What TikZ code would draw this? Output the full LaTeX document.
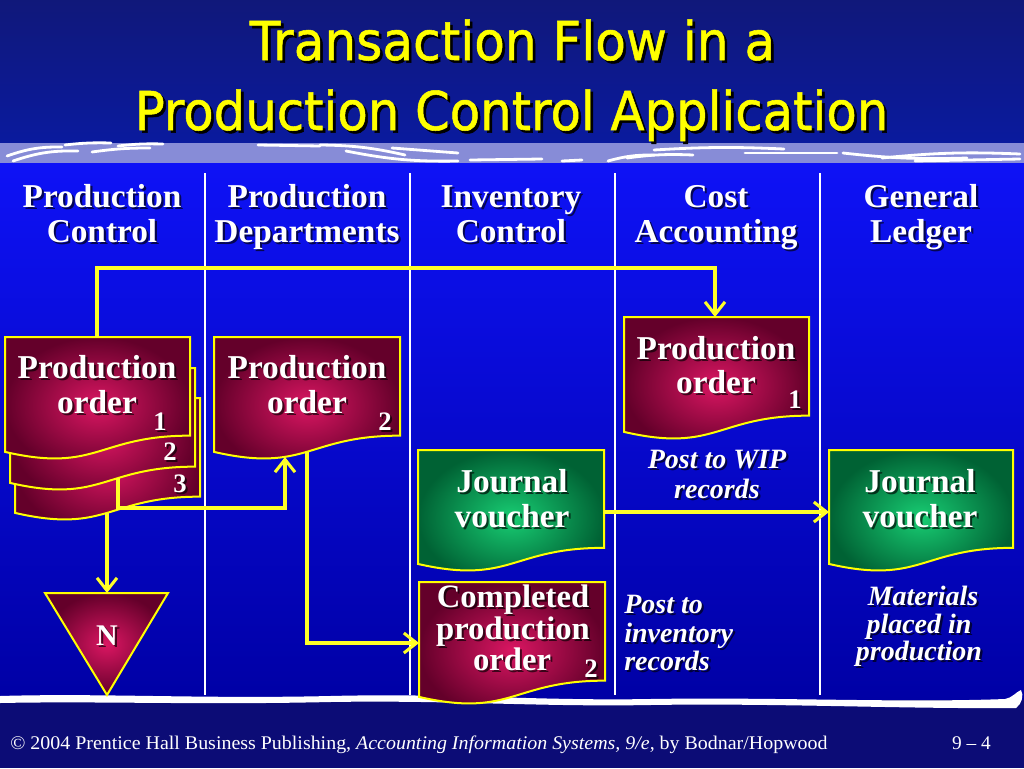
\documentclass[tikz,border=0pt]{standalone}
\usepackage{fontspec}
\usepackage{graphicx}
\setmainfont{Liberation Serif}
\newfontfamily\titlefont[FakeBold=1]{DejaVu Sans}
\usetikzlibrary{arrows.meta}
\definecolor{bgtop}{RGB}{16,24,122}
\definecolor{bgtitle}{RGB}{10,26,158}
\definecolor{band}{RGB}{135,140,215}
\definecolor{mainA}{RGB}{14,18,246}
\definecolor{mainB}{RGB}{0,0,165}
\definecolor{foot}{RGB}{12,12,118}
\definecolor{marA}{RGB}{218,22,98}
\definecolor{marB}{RGB}{100,0,42}
\definecolor{grnA}{RGB}{24,205,115}
\definecolor{grnB}{RGB}{0,98,52}
\definecolor{yel}{RGB}{255,255,0}
\definecolor{conny}{RGB}{255,255,40}
\newcommand\docp[4]{(#1,#2) -- ({#1+#3},#2) -- ({#1+#3},{#2+0.802*#4}) .. controls ({#1+0.5*#3},{#2+0.802*#4}) and ({#1+0.5*#3},{#2+1.1075*#4}) .. (#1,{#2+0.934*#4}) -- cycle}
\newcommand\tl[5]{%
  \node[#4,anchor=base,text=black,text opacity=0.65,xshift=1.6pt,yshift=-1.6pt] at (#2,#3) {#5};
  \node[#4,anchor=base] (#1) at (#2,#3) {#5};}
\newcommand\tw[4]{%
  \node[#3,anchor=base west,text=black,text opacity=0.65,xshift=1.6pt,yshift=-1.6pt] at (624,#2) {#4};
  \node[#3,anchor=base west] (#1) at (624,#2) {#4};}
\tikzset{
  docm/.style={inner color=marA,outer color=marB,draw=yel,line width=1.5pt},
  docg/.style={inner color=grnA,outer color=grnB,draw=yel,line width=1.5pt},
  conn/.style={draw=conny,line width=2.3pt,-{Straight Barb[length=9.5pt,width=15pt]}},
  lane/.style={draw=white,line width=1.6pt},
  big/.style={text=white,inner sep=0pt,font=\bfseries\fontsize{25}{30}\selectfont},
  bigc/.style={text=white,inner sep=0pt,font=\bfseries\fontsize{24.5}{30}\selectfont},
  num/.style={text=white,inner sep=0pt,font=\bfseries\fontsize{20}{24}\selectfont},
  ital/.style={text=white,inner sep=0pt,font=\bfseries\itshape\fontsize{21}{25}\selectfont},
  ttl/.style={text=yel,inner sep=0pt,font=\titlefont\fontsize{40}{48}\selectfont},
  streak/.style={draw=white,line width=2.1pt,line cap=round}
}
\begin{document}
\begin{tikzpicture}[x=0.75pt,y=-0.75pt]
\useasboundingbox (0,0) rectangle (1024,768);
% background
\shade[top color=bgtop,bottom color=bgtitle] (0,0) rectangle (1024,143);
\shade[top color=mainA,bottom color=mainB] (0,163) rectangle (1024,700);
\fill[foot] (0,700) rectangle (1024,768);
% band
\fill[band] (0,143) rectangle (1024,163);
\draw[streak] (7,156) to[bend left=10] (62,147);
\draw[streak] (13,161) to[bend left=10] (78,151);
\draw[streak] (65,145) to[bend left=4] (111,143);
\draw[streak] (92,152) to[bend left=4] (150,148);
\draw[streak] (118,146) to[bend left=4] (163,144);
\draw[streak] (258,145) -- (320,146);
\draw[streak] (320,145) to[bend left=6] (405,155);
\draw[streak] (346,151) to[bend right=6] (458,161);
\draw[streak] (392,148) -- (458,153);
\draw[streak] (470,160) -- (542,159);
\draw[streak] (562,161) -- (582,160);
\draw[streak] (608,161) to[bend left=8] (654,155);
\draw[streak] (627,158) to[bend left=5] (693,155);
\draw[streak] (654,150) to[bend left=3] (784,149);
\draw[streak] (745,153) -- (837,153);
\draw[streak] (843,153) to[bend right=4] (967,158);
\draw[streak] (882,158) to[bend left=4] (1020,154);
\draw[streak] (915,161) -- (1020,159);
% title
\node[ttl,anchor=base,text=black,xshift=2pt,yshift=-2pt] at (512.5,60) {\resizebox{394pt}{30.5pt}{Transaction Flow in a}};
\node[ttl,anchor=base] (title1) at (512.5,60) {\resizebox{394pt}{30.5pt}{Transaction Flow in a}};
\node[ttl,anchor=base,text=black,xshift=2pt,yshift=-2pt] at (511.5,130) {\resizebox{565pt}{30.5pt}{Production Control Application}};
\node[ttl,anchor=base] (title2) at (511.5,130) {\resizebox{565pt}{30.5pt}{Production Control Application}};
% lanes
\foreach \x in {205,410,615,820} \draw[lane] (\x,173) -- (\x,695);
% headers
\tl{h1a}{102}{207}{big}{Production}
\tl{h1b}{102}{242}{big}{Control}
\tl{h2a}{307}{207}{big}{Production}
\tl{h2b}{307}{242}{big}{Departments}
\tl{h3a}{511}{207}{big}{Inventory}
\tl{h3b}{511}{242}{big}{Control}
\tl{h4a}{716}{207}{big}{Cost}
\tl{h4b}{716}{242}{big}{Accounting}
\tl{h5a}{921}{207}{big}{General}
\tl{h5b}{921}{242}{big}{Ledger}
% bottom wave
\fill[white] (0,696) .. controls (100,693) and (200,699) .. (330,696)
  .. controls (450,693) and (540,701) .. (650,699)
  .. controls (780,697) and (900,703) .. (1005,699)
  .. controls (1012,698) and (1016,692) .. (1021,690)
  .. controls (1024,695) and (1022,704) .. (1016,708)
  .. controls (900,709) and (780,703) .. (650,705)
  .. controls (540,707) and (450,700) .. (330,702)
  .. controls (200,705) and (100,701) .. (0,703) -- cycle;
% documents - production control stack
\shadedraw[docm] \docp{15}{398}{185}{123};
\shadedraw[docm] \docp{10}{368}{185}{123};
\shadedraw[docm] \docp{5}{337}{185}{123};
\tl{pc1}{97}{378}{big}{Production}
\tl{pc2}{97}{413}{big}{order}
\tl{n1}{160}{430}{num}{1}
\tl{n2}{170}{460}{num}{2}
\tl{n3}{180}{492}{num}{3}
% N triangle
\shadedraw[docm] (45,593) -- (168,593) -- (107,695) -- cycle;
\tl{nlab}{107}{645}{big,font=\bfseries\fontsize{22.5}{27}\selectfont}{N}
% production departments
\shadedraw[docm] \docp{214}{337}{186}{123};
\tl{pd1}{307}{378}{big}{Production}
\tl{pd2}{307}{413}{big}{order}
\tl{pdn}{385}{430}{num}{2}
% inventory control
\shadedraw[docg] \docp{418}{450}{186}{122};
\tl{jv1}{512}{492}{big}{Journal}
\tl{jv2}{512}{527}{big}{voucher}
\shadedraw[docm] \docp{419}{582}{186}{123};
\tl{cp1}{513}{607}{bigc}{Completed}
\tl{cp2}{513}{639}{bigc}{production}
\tl{cp3}{512}{670}{bigc}{order}
\tl{cpn}{591}{677}{num}{2}
% cost accounting
\shadedraw[docm] \docp{624}{317}{185}{123};
\tl{ca1}{716}{359}{big}{Production}
\tl{ca2}{716}{393}{big}{order}
\tl{can}{795}{408}{num}{1}
\tl{w1}{717}{468}{ital}{Post to WIP}
\tl{w2}{717}{498}{ital}{records}
\tw{i1}{613}{ital}{Post to}
\tw{i2}{642}{ital}{inventory}
\tw{i3}{670}{ital}{records}
% general ledger
\shadedraw[docg] \docp{829}{450}{184}{122};
\tl{gl1}{920}{492}{big}{Journal}
\tl{gl2}{920}{527}{big}{voucher}
\tl{m1}{923}{605}{ital}{Materials}
\tl{m2}{919}{633}{ital}{placed in}
\tl{m3}{919}{660}{ital}{production}
% connector anchors
\coordinate (d1top) at (97,337);
\coordinate (po1top) at (715,317);
\coordinate (d2bot) at (118,478);
\coordinate (po2in) at (285,457);
\coordinate (d3bot) at (107,513);
\coordinate (ntop) at (107,593);
\coordinate (po2out) at (307,452);
\coordinate (cpin) at (419,643);
\coordinate (jvout) at (604,512);
\coordinate (glin) at (829,512);
% connectors
\draw[conn] (d1top) -- (97,268) -| (po1top);
\draw[conn] (d2bot) -- (118,508) -| (po2in);
\draw[conn] (d3bot) -- (ntop);
\draw[conn] (po2out) |- (cpin);
\draw[conn] (jvout) -- (glin);
% footer
\node[anchor=base west,inner sep=0pt,text=white,font=\fontsize{14.5}{17}\selectfont] (foot1) at (10,749)
  {\resizebox{613pt}{\height}{© 2004 Prentice Hall Business Publishing, \textit{Accounting Information Systems, 9/e}, by Bodnar/Hopwood}};
\node[anchor=base east,inner sep=0pt,text=white,font=\fontsize{14.5}{17}\selectfont] (foot2) at (991,749) {9 – 4};
\end{tikzpicture}
\end{document}
